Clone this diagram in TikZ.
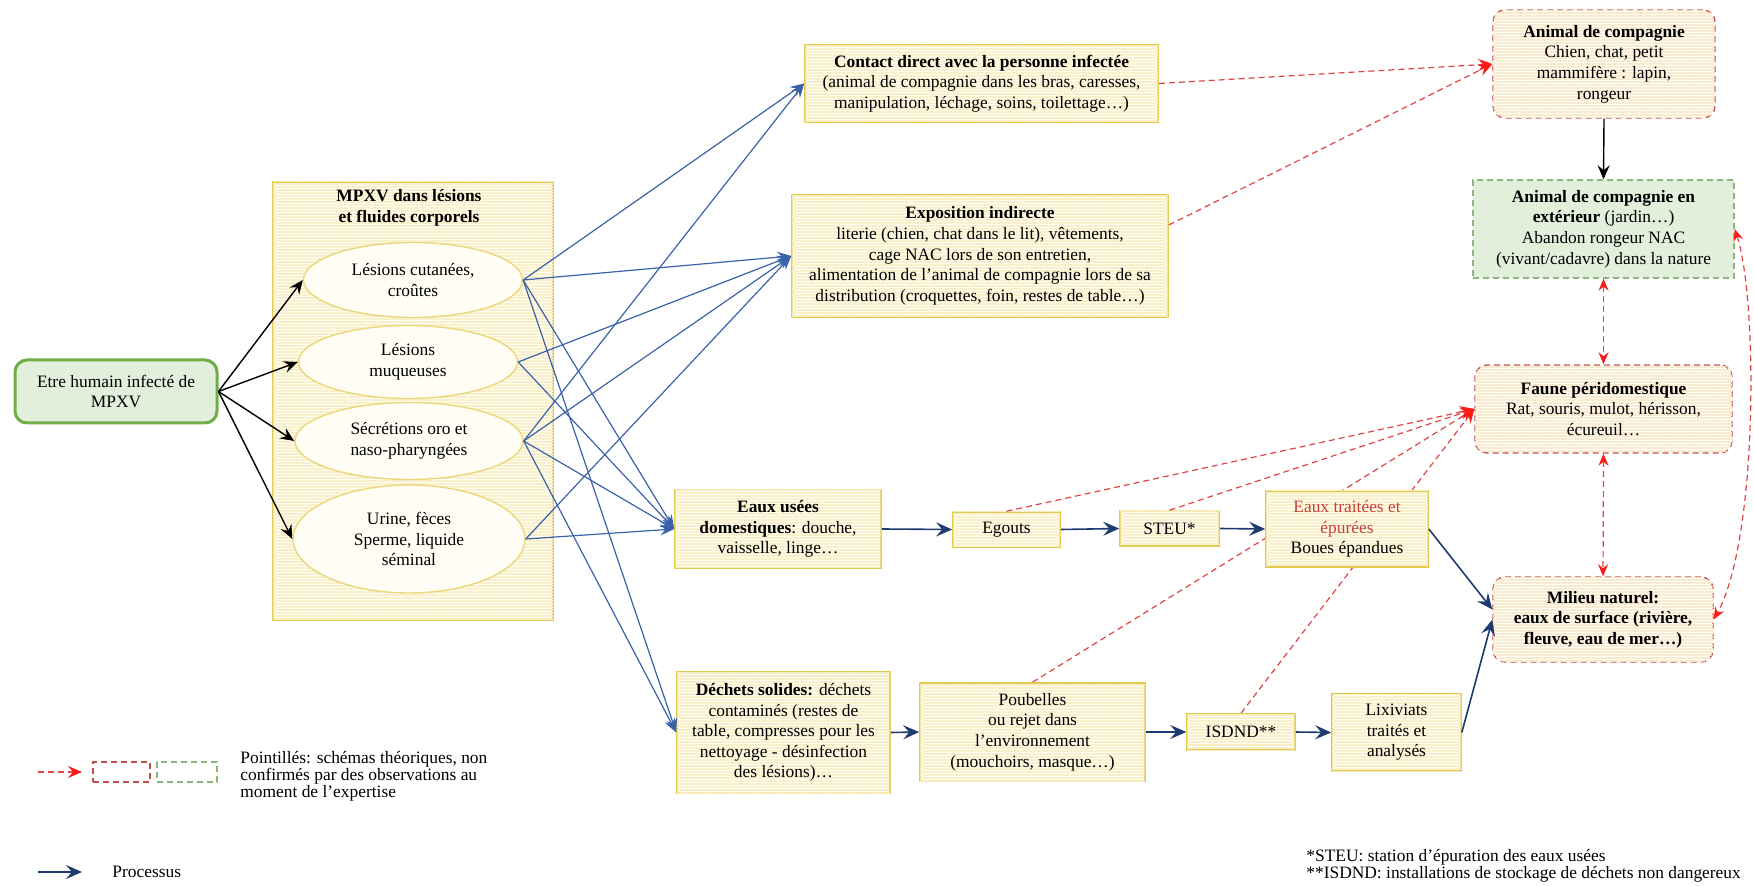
\documentclass[tikz,border=0pt]{standalone}
\usepackage{fontspec}
\setmainfont{Liberation Serif}
\usetikzlibrary{arrows.meta,shapes.geometric,patterns.meta}
\definecolor{gold}{HTML}{E3CB4F}
\definecolor{ellborder}{HTML}{EBD77A}
\definecolor{stripe}{HTML}{F8EFC6}
\definecolor{creambg}{HTML}{FFFDF4}
\definecolor{estripe}{HTML}{F8E9CE}
\definecolor{gfill}{HTML}{E2EFDA}
\definecolor{gborder}{HTML}{70AD47}
\definecolor{gdash}{HTML}{8AB77A}
\definecolor{rborder}{HTML}{C0504D}
\definecolor{rline}{HTML}{E04545}
\definecolor{rtip}{HTML}{FF1A1A}
\definecolor{bline}{HTML}{3A62A8}
\definecolor{navy}{HTML}{1F3A6E}
\definecolor{redtext}{HTML}{C8403A}
\pgfdeclarelayer{background}
\pgfsetlayers{background,main}
\tikzset{
  txt/.style={font=\fontsize{8.7}{10.3}\selectfont, align=center, inner sep=0pt},
  stripes/.style={fill=creambg, postaction={pattern={Lines[angle=0,distance=1.5pt,line width=0.55pt]}, pattern color=#1}},
  ybox/.style={txt, draw=gold, line width=0.8pt, stripes=stripe},
  rbox/.style={txt, draw=rborder, line width=0.7pt, dash pattern=on 3pt off 2pt, rounded corners=6pt, stripes=estripe},
  gbox/.style={txt, draw=gdash, line width=0.7pt, dash pattern=on 3pt off 2pt, fill=gfill},
  hbox/.style={txt, draw=gborder, line width=1.5pt, rounded corners=6pt, fill=gfill},
  ell/.style={txt, ellipse, draw=ellborder, line width=0.7pt, fill=creambg},
  karrow/.style={draw=black, line width=0.7pt, -{Stealth[length=7pt,width=6pt,inset=2.5pt]}},
  barrow/.style={draw=bline, line width=0.6pt, -{Stealth[length=7pt,width=5.5pt,inset=2.5pt]}},
  narrow/.style={draw=navy, line width=0.8pt, -{Stealth[length=8pt,width=7pt,inset=3pt]}},
  rarrow/.style={draw=rline, line width=0.6pt, dash pattern=on 3pt off 2pt, -{Stealth[length=7pt,width=6pt,inset=2.5pt,color=rtip]}},
  rdouble/.style={draw=rline, line width=0.6pt, dash pattern=on 3pt off 2pt, {Stealth[length=6pt,width=5pt,inset=2pt,color=rtip]}-{Stealth[length=6pt,width=5pt,inset=2pt,color=rtip]}},
  legtxt/.style={font=\fontsize{8.7}{8.4}\selectfont, align=left, inner sep=0pt, anchor=west},
}
\begin{document}
\begin{tikzpicture}[x=0.5pt,y=-0.5pt]
\useasboundingbox (0,0) rectangle (1754,886);

% left column
\node[hbox, minimum width=101pt, minimum height=31.5pt] (human) at (116,391.5) {Etre humain infecté de\\MPXV};
\node[ybox, minimum width=140pt, minimum height=219pt] (mpxv) at (413,401) {};
\node[txt, font=\fontsize{8.7}{10.3}\selectfont\bfseries] (mpxvtitle) at (409,208) {MPXV  dans lésions\\et fluides corporels};
\node[ell, minimum width=109.5pt, minimum height=37.5pt] (e1) at (413,280) {Lésions cutanées,\\croûtes};
\node[ell, minimum width=109.5pt, minimum height=36.5pt] (e2) at (408,362) {Lésions\\muqueuses};
\node[ell, minimum width=114pt, minimum height=38.5pt] (e3) at (409,441) {Sécrétions oro et\\naso-pharyngées};
\node[ell, minimum width=116pt, minimum height=54pt] (e4) at (409,539) {Urine, fèces\\Sperme, liquide\\séminal};

% middle column
\node[ybox, minimum width=176.5pt, minimum height=38.5pt] (contact) at (981.5,83.5) {\textbf{Contact direct avec la personne infectée}\\(animal  de compagnie  dans les bras, caresses,\\manipulation, léchage,  soins, toilettage…)};
\node[ybox, minimum width=188pt, minimum height=61pt] (expo) at (980,256) {\textbf{Exposition indirecte}\\literie (chien, chat dans le lit), vêtements,\\cage  NAC lors de son entretien,\\alimentation  de l’animal  de compagnie lors de sa\\distribution (croquettes, foin, restes de table…)};
\node[ybox, minimum width=103pt, minimum height=39pt] (usees) at (778,529) {\textbf{Eaux usées}\\\textbf{domestiques}: douche,\\vaisselle, linge…};
\node[ybox, minimum width=53.5pt, minimum height=17.5pt] (egouts) at (1006.5,529.5) {Egouts};
\node[ybox, minimum width=49.5pt, minimum height=17.5pt] (steu) at (1169.5,528.5) {STEU*};
\node[ybox, minimum width=106.5pt, minimum height=60.5pt] (dechets) at (783.5,732.5) {\textbf{Déchets solides:} déchets\\contaminés (restes de\\table, compresses pour les\\nettoyage - désinfection\\des lésions)…};
\node[ybox, minimum width=112.5pt, minimum height=49pt] (poubelles) at (1032.5,732) {Poubelles\\ou rejet dans\\l’environnement\\(mouchoirs, masque…)};
\node[ybox, minimum width=54pt, minimum height=18pt] (isdnd) at (1241,732) {ISDND**};
\node[ybox, minimum width=64.5pt, minimum height=38.5pt] (lixiviats) at (1396.5,732.5) {Lixiviats\\traités et\\analysés};

% right column
\node[rbox, minimum width=111pt, minimum height=54pt] (animal) at (1604,64) {\textbf{Animal de compagnie}\\Chien, chat, petit\\mammifère  : lapin,\\rongeur};
\node[gbox, minimum width=130.5pt, minimum height=49pt] (exterieur) at (1603.5,229) {\textbf{Animal de compagnie en}\\\textbf{extérieur} (jardin…)\\Abandon rongeur NAC\\(vivant/cadavre)  dans la nature};
\node[rbox, minimum width=128.5pt, minimum height=44pt] (faune) at (1603.5,409) {\textbf{Faune péridomestique}\\Rat, souris, mulot, hérisson,\\écureuil…};
\node[rbox, minimum width=110pt, minimum height=42.5pt] (milieu) at (1603,619.5) {\textbf{Milieu naturel:}\\\textbf{eaux de surface (rivière,}\\\textbf{fleuve, eau de mer…)}};

% red lines passing behind "Eaux traitées"
\begin{pgfonlayer}{background}
\draw[rarrow] (poubelles.north) -- (faune.west);
\draw[rarrow] (isdnd.north) -- (faune.west);
\end{pgfonlayer}
\node[ybox, minimum width=81pt, minimum height=38pt] (traitees) at (1347,529) {\textcolor{redtext}{Eaux  traitées et}\\\textcolor{redtext}{épurées}\\Boues épandues};

% black arrows
\foreach \e in {e1,e2,e3,e4} \draw[karrow] (human.east) -- (\e.west);
\draw[karrow] (animal.south) -- (exterieur.north);

% blue arrows
\draw[barrow] (e1.east) -- (contact.west);
\draw[barrow] (e1.east) -- (expo.west);
\draw[barrow] (e1.east) -- (usees.west);
\draw[barrow] (e1.east) -- (dechets.west);
\draw[barrow] (e2.east) -- (expo.west);
\draw[barrow] (e2.east) -- (usees.west);
\draw[barrow] (e3.east) -- (contact.west);
\draw[barrow] (e3.east) -- (expo.west);
\draw[barrow] (e3.east) -- (usees.west);
\draw[barrow] (e3.east) -- (dechets.west);
\draw[barrow] (e4.east) -- (expo.west);
\draw[barrow] (e4.east) -- (usees.west);

% process arrows
\draw[narrow] (usees.east) -- (egouts.west);
\draw[narrow] (egouts.east) -- (steu.west);
\draw[narrow] (steu.east) -- (traitees.west);
\draw[narrow] (traitees.east) -- ([yshift=5pt]milieu.west);
\draw[narrow] (dechets.east) -- (poubelles.west);
\draw[narrow] (poubelles.east) -- (isdnd.west);
\draw[narrow] (isdnd.east) -- (lixiviats.west);
\draw[narrow] (lixiviats.east) -- (milieu.west);

% red dashed arrows
\draw[rarrow] (contact.east) -- (animal.west);
\draw[rarrow] ([yshift=15.5pt]expo.east) -- (animal.west);
\draw[rarrow] (egouts.north) -- (faune.west);
\draw[rarrow] (steu.north) -- (faune.west);
\draw[rdouble] (exterieur.south) -- (faune.north);
\draw[rdouble] (faune.south) -- (milieu.north);
\draw[rdouble] (exterieur.east) .. controls (1758,300) and (1758,540) .. (milieu.east);

% legend
\coordinate (la1) at (38,772);
\coordinate (la2) at (82,772);
\draw[rarrow] (la1) -- (la2);
\node[draw=rborder, line width=0.7pt, dash pattern=on 3pt off 2pt, minimum width=28.5pt, minimum height=10pt, inner sep=0pt] (legr) at (121.5,772) {};
\node[draw=gdash, line width=0.7pt, dash pattern=on 3pt off 2pt, minimum width=30pt, minimum height=10pt, inner sep=0pt] (legg) at (187,772) {};
\node[legtxt] (legtext) at (240,776) {Pointillés: schémas théoriques, non\\confirmés par des observations au\\moment de l’expertise};
\coordinate (lb1) at (38,872);
\coordinate (lb2) at (82,872);
\draw[narrow] (lb1) -- (lb2);
\node[legtxt, font=\fontsize{8.7}{10.3}\selectfont] (proc) at (112,872) {Processus};
\node[legtxt, font=\fontsize{8.7}{8.6}\selectfont] (notes) at (1306,866) {*STEU: station d’épuration des eaux usées\\**ISDND: installations de stockage de déchets non dangereux};
\end{tikzpicture}
\end{document}
